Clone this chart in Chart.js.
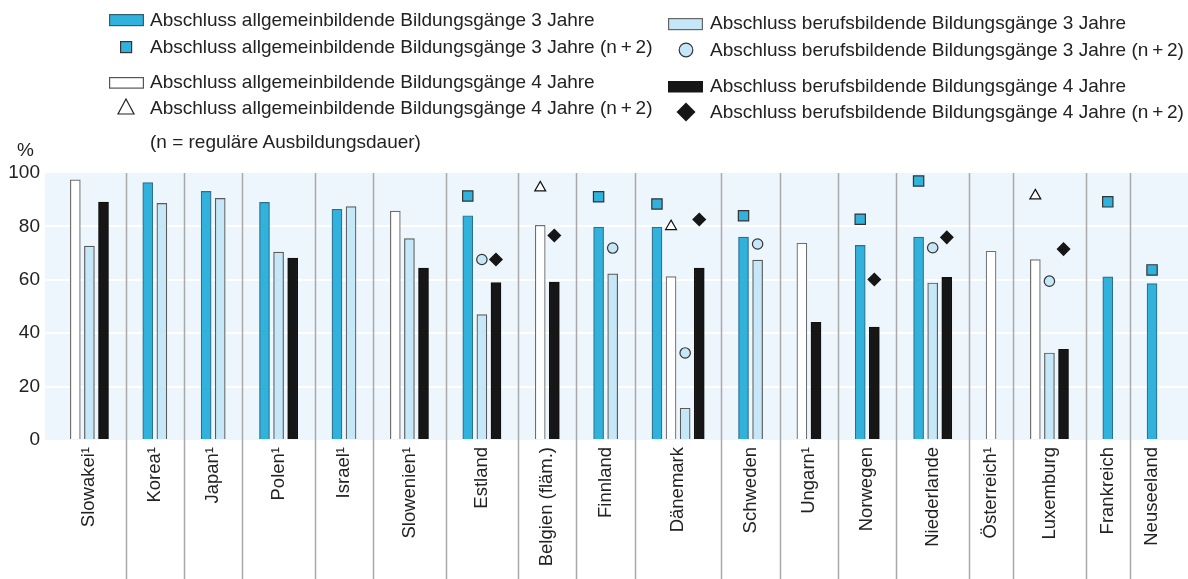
<!DOCTYPE html>
<html lang="de">
<head>
<meta charset="utf-8">
<title>Abschlussquoten Sekundarbereich II</title>
<script src="https://cdn.jsdelivr.net/npm/chart.js@4.4.1/dist/chart.umd.min.js"></script>
<style>
  html, body { margin: 0; padding: 0; background: #fff; }
  #wrap { position: relative; width: 1188px; height: 579px; font-family: "Liberation Sans", Arial, sans-serif; color: #222; }
  #wrap canvas { position: absolute; left: 0; top: 0; }
  .lg { position: absolute; font-size: 19px; line-height: 22px; white-space: nowrap; }
  .sym { position: absolute; }
</style>
</head>
<body>
<div id="wrap">
  <canvas id="chart" width="1188" height="579"></canvas>
  <div id="legend"></div>
  <div class="lg" style="left:17px;top:139px;">%</div>
</div>
<script>
// categories and values (percent), order in each group: allg. 3 J., allg. 4 J., beruf. 3 J., beruf. 4 J.
var categories = ['Slowakei¹', 'Korea¹', 'Japan¹', 'Polen¹', 'Israel¹', 'Slowenien¹', 'Estland',
  'Belgien (fläm.)', 'Finnland', 'Dänemark', 'Schweden', 'Ungarn¹', 'Norwegen', 'Niederlande',
  'Österreich¹', 'Luxemburg', 'Frankreich', 'Neuseeland'];

var allg3   = [null, 96.4, 93.1, 89.0, 86.4, null, 84.0, null, 79.7, 79.7, 76.0, null, 72.9, 76.0, null, null, 61.1, 58.6];
var allg4   = [97.4, null, null, null, null, 85.7, null, 80.4, null, 61.2, null, 73.7, null, null, 70.7, 67.6, null, null];
var beruf3  = [72.6, 88.6, 90.5, 70.4, 87.4, 75.4, 47.0, null, 62.2, 11.9, 67.4, null, null, 58.8, null, 32.6, null, null];
var beruf4  = [89.1, null, null, 68.1, null, 64.4, 59.0, 59.1, null, 64.4, null, 44.1, 42.3, 60.9, null, 34.0, null, null];

// (n + 2) values
var allg3n2  = [null, null, null, null, null, null, 91.4, null, 91.1, 88.4, 84.0, null, 82.7, 97.0, null, null, 89.2, 63.7];
var allg4n2  = [null, null, null, null, null, null, null, 94.5, null, 80.0, null, null, null, null, null, 91.5, null, null];
var beruf3n2 = [null, null, null, null, null, null, 67.6, null, 71.9, 32.6, 73.4, null, null, 72.0, null, 59.5, null, null];
var beruf4n2 = [null, null, null, null, null, null, 67.6, 76.6, null, 82.6, null, null, 60.1, 75.9, null, 71.5, null, null];

var yTicks = [0, 20, 40, 60, 80, 100];

var labels = [
  'Abschluss allgemeinbildende Bildungsgänge 3 Jahre',
  'Abschluss allgemeinbildende Bildungsgänge 3 Jahre (n\u2009+\u20092)',
  'Abschluss allgemeinbildende Bildungsgänge 4 Jahre',
  'Abschluss allgemeinbildende Bildungsgänge 4 Jahre (n\u2009+\u20092)',
  'Abschluss berufsbildende Bildungsgänge 3 Jahre',
  'Abschluss berufsbildende Bildungsgänge 3 Jahre (n\u2009+\u20092)',
  'Abschluss berufsbildende Bildungsgänge 4 Jahre',
  'Abschluss berufsbildende Bildungsgänge 4 Jahre (n\u2009+\u20092)'
];

var BLUE = '#31b2dc', LIGHT = '#c6e7f7', BLACK = '#161616', PLOT_BG = '#eef6fd';

// only bars that exist take a slot, groups are separated by a wider step
var CAT_STEP = 3.14;
var barSeries = [allg3, allg4, beruf3, beruf4];
var slotX = barSeries.map(function () { return []; });
var centers = [], firsts = [], lasts = [];
var pos = 0;
categories.forEach(function (c, i) {
  var first = null, last = null;
  barSeries.forEach(function (s, k) {
    if (s[i] != null) {
      slotX[k][i] = pos;
      if (first === null) first = pos;
      last = pos;
      pos += 1;
    }
  });
  firsts.push(first); lasts.push(last);
  centers.push((first + last) / 2);
  pos = last + CAT_STEP;
});
var xMin = -2.15, xMax = lasts[lasts.length - 1] + 2.55;

function points(values, k) {
  var out = [];
  values.forEach(function (v, i) {
    if (v != null) out.push({ x: slotX[k][i], y: v });
  });
  return out;
}

function barSet(label, values, k, fill, border) {
  return {
    type: 'bar', label: label, data: points(values, k),
    backgroundColor: fill, borderColor: border, borderWidth: 1.2,
    barThickness: 10, grouped: false, order: 2
  };
}
function markSet(label, values, k, style, radius, fill, border) {
  return {
    type: 'line', label: label, data: points(values, k), showLine: false,
    pointStyle: style, pointRadius: radius, pointHoverRadius: radius,
    pointBackgroundColor: fill, pointBorderColor: border, pointBorderWidth: 1.2, order: 1
  };
}

var separators = {
  id: 'separators',
  beforeDraw: function (chart) {
    var a = chart.chartArea, ctx = chart.ctx;
    ctx.save();
    ctx.fillStyle = PLOT_BG;
    ctx.fillRect(a.left, a.top, a.right - a.left, a.bottom - a.top);
    ctx.restore();
  },
  beforeDatasetsDraw: function (chart) {
    var a = chart.chartArea, ctx = chart.ctx, xs = chart.scales.x;
    ctx.save();
    ctx.strokeStyle = '#a9a9a9';
    ctx.lineWidth = 1.5;
    for (var i = 0; i < categories.length - 1; i++) {
      var px = Math.round(xs.getPixelForValue((lasts[i] + firsts[i + 1]) / 2)) + 0.5;
      ctx.beginPath();
      ctx.moveTo(px, a.top);
      ctx.lineTo(px, chart.height);
      ctx.stroke();
    }
    ctx.restore();
  }
};

Chart.defaults.font.family = '"Liberation Sans", Arial, sans-serif';
Chart.defaults.color = '#222';

new Chart(document.getElementById('chart'), {
  type: 'bar',
  data: {
    datasets: [
      barSet(labels[0], allg3, 0, BLUE, '#2f6f88'),
      barSet(labels[2], allg4, 1, '#ffffff', '#6e6e6e'),
      barSet(labels[4], beruf3, 2, LIGHT, '#5a5a5a'),
      barSet(labels[6], beruf4, 3, BLACK, '#111111'),
      markSet(labels[1], allg3n2, 0, 'rect', 7.3, BLUE, '#333333'),
      markSet(labels[3], allg4n2, 1, 'triangle', 6.3, '#ffffff', '#111111'),
      markSet(labels[5], beruf3n2, 2, 'circle', 5.2, LIGHT, '#333333'),
      markSet(labels[7], beruf4n2, 3, 'rectRot', 6.2, BLACK, BLACK)
    ]
  },
  options: {
    responsive: false,
    animation: false,
    layout: { autoPadding: false, padding: { top: 173, right: 0, left: 0, bottom: 0 } },
    plugins: { legend: { display: false }, tooltip: { enabled: false } },
    scales: {
      x: {
        type: 'linear', min: xMin, max: xMax, offset: false,
        grid: { display: false, drawTicks: false },
        border: { display: false },
        afterBuildTicks: function (scale) {
          scale.ticks = centers.map(function (v) { return { value: v }; });
        },
        afterFit: function (scale) {
          scale.height = 139;
          scale.paddingLeft = 0;
          scale.paddingRight = 0;
        },
        ticks: {
          autoSkip: false, minRotation: 90, maxRotation: 90, padding: 7,
          font: { size: 18.5 }, color: '#222',
          callback: function (v, i) { return categories[i]; }
        }
      },
      y: {
        min: 0, max: 100,
        afterBuildTicks: function (scale) {
          scale.ticks = yTicks.map(function (v) { return { value: v }; });
        },
        afterFit: function (scale) { scale.width = 45; },
        border: { display: false },
        grid: {
          drawTicks: false, lineWidth: 2,
          color: function (c) { return (c.tick && (c.tick.value === 0 || c.tick.value === 100)) ? 'rgba(0,0,0,0)' : '#ffffff'; }
        },
        ticks: { padding: 5, font: { size: 19 }, color: '#222' }
      }
    }
  },
  plugins: [separators]
});

// legend, laid out like the original in two columns
var legendItems = [
  { text: labels[0], x: 150, y: 20, sym: '<svg class="sym" style="left:109px;top:14px" width="35" height="13"><rect x="0.6" y="0.6" width="33.8" height="11" fill="' + BLUE + '" stroke="#2f5f75" stroke-width="1.2"/></svg>' },
  { text: labels[1], x: 150, y: 47, sym: '<svg class="sym" style="left:120px;top:41px" width="13" height="13"><rect x="0.6" y="0.6" width="11" height="11" fill="' + BLUE + '" stroke="#333" stroke-width="1.2"/></svg>' },
  { text: labels[2], x: 150, y: 82, sym: '<svg class="sym" style="left:109px;top:77px" width="35" height="13"><rect x="0.6" y="0.6" width="33.8" height="10.5" fill="#fff" stroke="#555" stroke-width="1.2"/></svg>' },
  { text: labels[3], x: 150, y: 108, sym: '<svg class="sym" style="left:117px;top:98px" width="18" height="17"><polygon points="9,1 17,16 1,16" fill="#fff" stroke="#222" stroke-width="1.2"/></svg>' },
  { text: labels[4], x: 710, y: 23, sym: '<svg class="sym" style="left:668px;top:18px" width="35" height="13"><rect x="0.6" y="0.6" width="33.8" height="11" fill="' + LIGHT + '" stroke="#666" stroke-width="1.2"/></svg>' },
  { text: labels[5], x: 710, y: 50, sym: '<svg class="sym" style="left:678px;top:42px" width="16" height="16"><circle cx="8" cy="8" r="6.8" fill="' + LIGHT + '" stroke="#333" stroke-width="1.2"/></svg>' },
  { text: labels[6], x: 710, y: 86, sym: '<svg class="sym" style="left:668px;top:81px" width="35" height="12"><rect x="0" y="0" width="35" height="11.5" fill="' + BLACK + '"/></svg>' },
  { text: labels[7], x: 710, y: 112, sym: '<svg class="sym" style="left:676px;top:102px" width="20" height="20"><polygon points="10,0.5 19.5,10 10,19.5 0.5,10" fill="' + BLACK + '"/></svg>' },
  { text: '(n = reguläre Ausbildungsdauer)', x: 150, y: 142, sym: '' }
];
var html = '';
legendItems.forEach(function (it) {
  html += it.sym + '<div class="lg" style="left:' + it.x + 'px;top:' + (it.y - 11) + 'px">' + it.text + '</div>';
});
document.getElementById('legend').innerHTML = html;
</script>
</body>
</html>
